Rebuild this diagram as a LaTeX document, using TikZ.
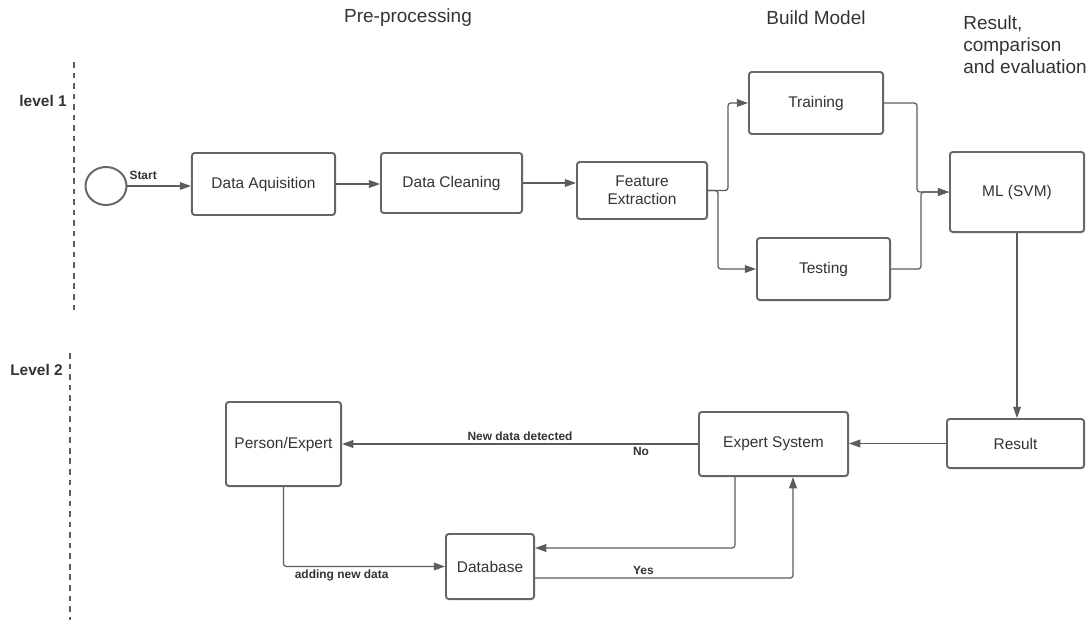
\documentclass[tikz,border=0pt]{standalone}
\usepackage{fontspec}
\setmainfont{Liberation Sans}
\usetikzlibrary{arrows.meta, shapes.geometric}

\definecolor{linegray}{HTML}{5C5C5C}
\definecolor{boxgray}{HTML}{666666}
\definecolor{txtgray}{HTML}{333333}

\tikzset{
  box/.style={draw=boxgray, line width=1.4pt, rounded corners=2pt, align=center,
    text=txtgray, font=\fontsize{11}{13}\selectfont, inner sep=0pt},
  conn/.style={draw=linegray, line width=0.9pt, rounded corners=2pt,
    -{Triangle[length=8pt,width=5.5pt]}},
  lbl/.style={font=\bfseries\fontsize{8.5}{10}\selectfont, text=txtgray, inner sep=2pt},
  lvl/.style={font=\bfseries\fontsize{11}{13}\selectfont, text=txtgray, inner sep=0pt},
  head/.style={font=\fontsize{13.5}{15.5}\selectfont, text=txtgray, inner sep=0pt},
  lane/.style={draw=linegray, line width=1pt, dash pattern=on 4pt off 3.5pt},
}

\begin{document}
\begin{tikzpicture}[x=0.025cm, y=-0.025cm]
\useasboundingbox (0,0) rectangle (1091,620);

% column headings
\node[head] (hpre) at (408,18) {Pre-processing};
\node[head] (hbuild) at (816,18) {Build Model};
\node[head, align=left, anchor=west] (hres) at (963,45) {Result,\\comparison\\and evaluation};

% levels
\node[lvl, anchor=east] (lev1) at (67,101) {level 1};
\node[lvl, anchor=east] (lev2) at (63,370) {Level 2};
\draw[lane] (74,62) -- (74,315);
\draw[lane] (70,353) -- (70,620);

% level 1
\node[draw=boxgray, line width=1.4pt, ellipse, minimum width=1.025cm, minimum height=0.95cm] (start) at (106,186) {};
\node[box, minimum width=3.575cm, minimum height=1.55cm] (acq) at (263.5,184) {Data Aquisition};
\node[box, minimum width=3.525cm, minimum height=1.5cm] (clean) at (451.5,183) {Data Cleaning};
\node[box, minimum width=3.25cm, minimum height=1.425cm] (feat) at (642,190.5) {Feature\\Extraction};
\node[box, minimum width=3.35cm, minimum height=1.55cm] (train) at (816,103) {Training};
\node[box, minimum width=3.325cm, minimum height=1.55cm] (test) at (823.5,269) {Testing};
\node[box, minimum width=3.35cm, minimum height=2cm] (ml) at (1017,192) {ML (SVM)};

% level 2
\node[box, minimum width=3.425cm, minimum height=1.225cm] (result) at (1015.5,443.5) {Result};
\node[box, minimum width=3.725cm, minimum height=1.6cm] (expert) at (773.5,444) {Expert System};
\node[box, minimum width=2.875cm, minimum height=2.1cm] (person) at (283.5,444) {Person/Expert};
\node[box, minimum width=2.2cm, minimum height=1.625cm] (db) at (490,566.5) {Database};

\draw[conn] (start) -- node[lbl, pos=0, anchor=south west, inner sep=1pt, yshift=3pt] {Start} (start -| acq.west);
\draw[conn] (acq.east) -- (acq.east -| clean.west);
\draw[conn] (clean.east) -- (clean.east -| feat.west);
\draw[conn] (feat.east) -- ++(20,0) |- (train.west);
\draw[conn] (feat.east) -- ++(10,0) |- (test.west);
\draw[conn] (train.east) -- ++(33,0) |- (ml.west);
\draw[conn] (test.east) -- ++(30,0) |- (ml.west);
\draw[conn] (ml.south) -- (ml.south |- result.north);
\draw[conn] (result.west) -- (result.west -| expert.east);
\draw[conn] (expert.west) -- node[lbl, above, pos=0.5] {New data detected}
  node[lbl, below, pos=0.16] {No} (expert.west -| person.east);
\draw[conn] (person.south) |- node[lbl, below, pos=0.68] {adding new data} (db.west);
\draw[conn] ([xshift=-0.9625cm]expert.south) |- ([yshift=0.4625cm]db.east);
\draw[conn] ([yshift=-0.2875cm]db.east) -| node[lbl, above, pos=0.21] {Yes} ([xshift=0.4875cm]expert.south);
\end{tikzpicture}
\end{document}
